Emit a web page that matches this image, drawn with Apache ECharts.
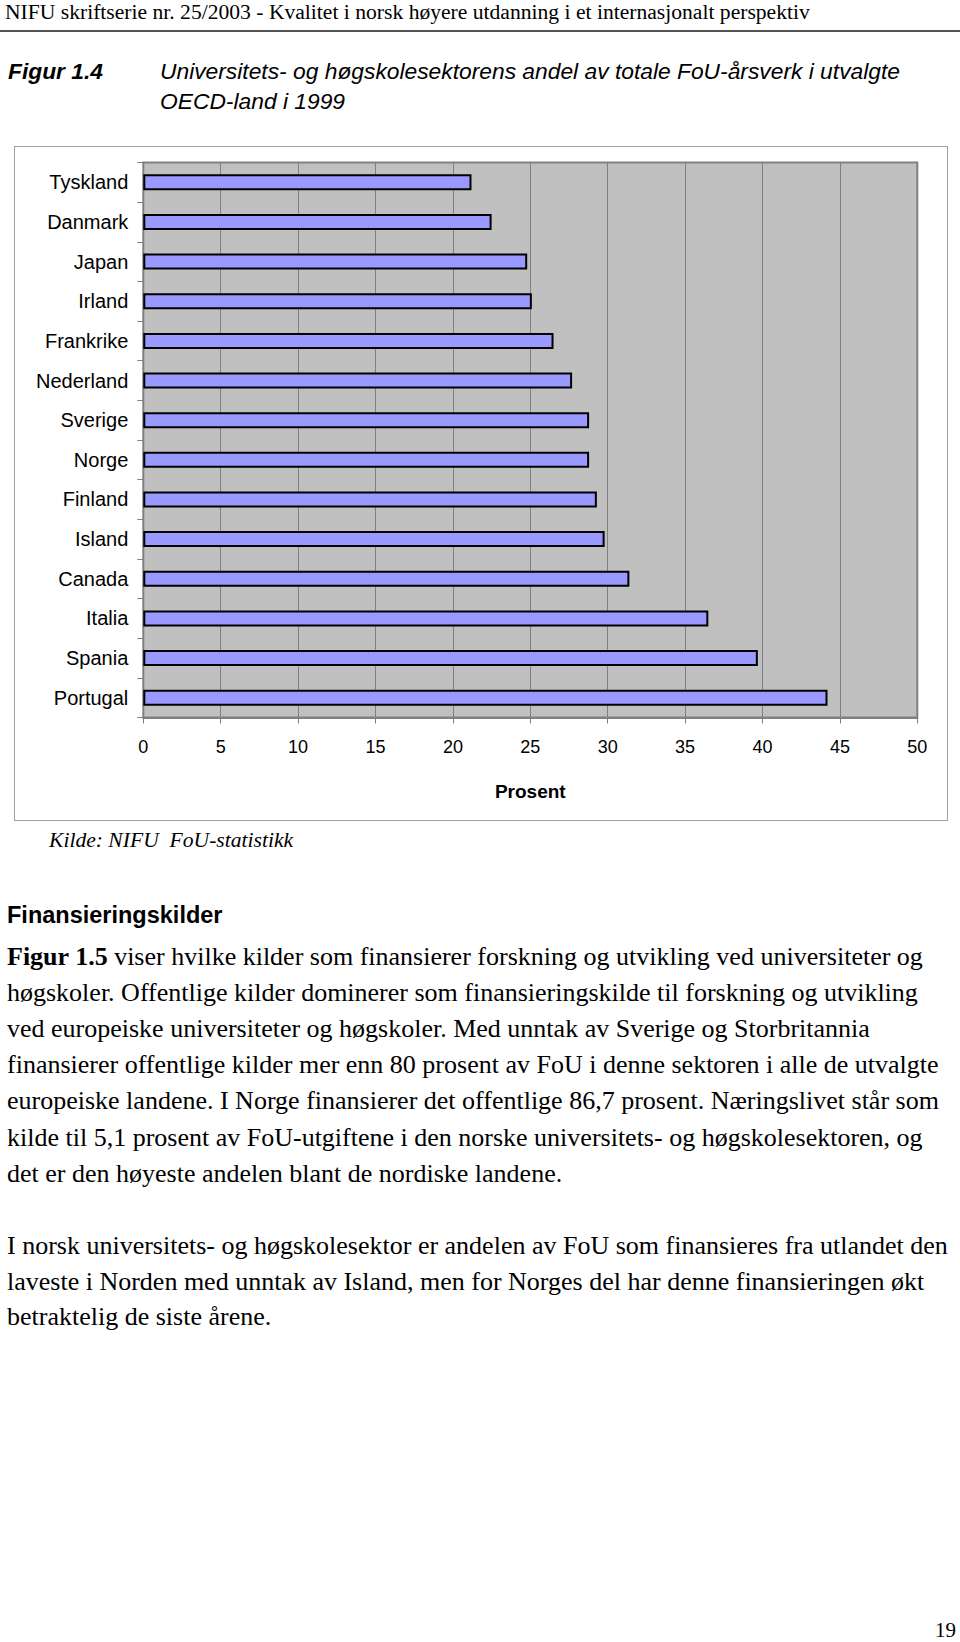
<!DOCTYPE html>
<html>
<head>
<meta charset="utf-8">
<script src="https://cdn.jsdelivr.net/npm/echarts@6/dist/echarts.min.js"></script>
<style>
  html, body { margin: 0; padding: 0; background: #fff; }
  body { width: 960px; height: 1642px; position: relative; overflow: hidden; }
  .t { position: absolute; white-space: nowrap; }
  .serif { font-family: "Liberation Serif", "Times New Roman", serif; color: #000; }
  .sans { font-family: "Liberation Sans", Arial, sans-serif; color: #000; }
  #hdr { left: 5px; top: 0px; font-size: 21.6px; line-height: 24px; }
  #rule { position: absolute; left: 0; top: 30px; width: 960px; height: 2px; background: #555; }
  .ttl { font-size: 22.8px; line-height: 26px; font-style: italic; }
  #box { position: absolute; left: 14px; top: 146px; width: 934px; height: 675px; border: 1px solid #a0a0a0; box-sizing: border-box; }
  #chart { position: absolute; left: 0; top: 140px; width: 960px; height: 700px; }
  .p { font-size: 26px; line-height: 30px; left: 7px; }
</style>
</head>
<body>
<div id="hdr" class="t serif">NIFU skriftserie nr. 25/2003 - Kvalitet i norsk høyere utdanning i et internasjonalt perspektiv</div>
<div id="rule"></div>
<div class="t sans ttl" style="left:8px;top:58px;font-weight:bold;">Figur 1.4</div>
<div class="t sans ttl" style="left:160px;top:58px;">Universitets- og høgskolesektorens andel av totale FoU-årsverk i utvalgte</div>
<div class="t sans ttl" style="left:160px;top:88px;">OECD-land i 1999</div>
<div id="box"></div>
<div id="chart"></div>
<div class="t serif" style="left:49px;top:828px;font-size:21.6px;line-height:25px;font-style:italic;">Kilde: NIFU&nbsp; FoU-statistikk</div>
<div class="t sans" style="left:7px;top:901px;font-size:23.5px;line-height:28px;font-weight:bold;">Finansieringskilder</div>
<div id="para"></div>
<div class="t serif" style="left:935px;top:1618px;font-size:21px;line-height:24px;">19</div>
<script>
// ---- data ----
const categories = ["Tyskland", "Danmark", "Japan", "Irland", "Frankrike", "Nederland", "Sverige", "Norge", "Finland", "Island", "Canada", "Italia", "Spania", "Portugal"];
const values = [21.2, 22.5, 24.8, 25.1, 26.5, 27.7, 28.8, 28.8, 29.3, 29.8, 31.4, 36.5, 39.7, 44.2];
const xTicks = { min: 0, max: 50, interval: 5 };
const axisName = "Prosent";

// ---- body text ----
const para1 = [
  "<b>Figur 1.5</b> viser hvilke kilder som finansierer forskning og utvikling ved universiteter og",
  "høgskoler. Offentlige kilder dominerer som finansieringskilde til forskning og utvikling",
  "ved europeiske universiteter og høgskoler. Med unntak av Sverige og Storbritannia",
  "finansierer offentlige kilder mer enn 80 prosent av FoU i denne sektoren i alle de utvalgte",
  "europeiske landene. I Norge finansierer det offentlige 86,7 prosent. Næringslivet står som",
  "kilde til 5,1 prosent av FoU-utgiftene i den norske universitets- og høgskolesektoren, og",
  "det er den høyeste andelen blant de nordiske landene."
];
const para2 = [
  "I norsk universitets- og høgskolesektor er andelen av FoU som finansieres fra utlandet den",
  "laveste i Norden med unntak av Island, men for Norges del har denne finansieringen økt",
  "betraktelig de siste årene."
];
const paraEl = document.getElementById('para');
function addLines(lines, startCenter, step) {
  lines.forEach((s, i) => {
    const d = document.createElement('div');
    d.className = 't serif p';
    d.style.top = (startCenter + i * step - 15) + 'px';
    d.innerHTML = s;
    paraEl.appendChild(d);
  });
}
addLines(para1, 957, 36.1);
addLines(para2, 1246, 35.6);

// ---- chart ----
const chart = echarts.init(document.getElementById('chart'), null, { renderer: 'svg' });
chart.setOption({
  animation: false,
  grid: {
    left: 143.3, top: 22.5, width: 774, height: 555,
    show: true, backgroundColor: '#C0C0C0', borderColor: '#808080', borderWidth: 2
  },
  xAxis: {
    type: 'value', min: xTicks.min, max: xTicks.max, interval: xTicks.interval,
    name: axisName, nameLocation: 'middle', nameGap: 64,
    nameTextStyle: { fontFamily: 'Liberation Sans', fontSize: 19, fontWeight: 'bold', color: '#000' },
    axisLine: { show: true, lineStyle: { color: '#808080', width: 2 } },
    axisTick: { show: true, length: 6, lineStyle: { color: '#808080' } },
    axisLabel: { fontFamily: 'Liberation Sans', fontSize: 18, color: '#000', margin: 20 },
    splitLine: { show: true, lineStyle: { color: '#808080', width: 1 } }
  },
  yAxis: {
    type: 'category', data: categories, inverse: true,
    axisLine: { show: true, lineStyle: { color: '#808080', width: 1 } },
    axisTick: { show: true, length: 6, lineStyle: { color: '#808080' } },
    axisLabel: { fontFamily: 'Liberation Sans', fontSize: 20, color: '#000', margin: 15 },
    splitLine: { show: false }
  },
  series: [{
    type: 'bar', data: values, barWidth: 16,
    itemStyle: { color: '#9999FF', borderColor: '#000', borderWidth: 2 }
  }]
});
</script>
</body>
</html>
